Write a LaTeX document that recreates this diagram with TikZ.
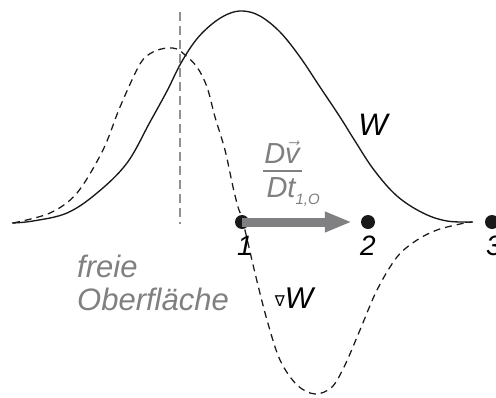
\documentclass[tikz,border=0pt]{standalone}
\usepackage{fontspec}
\setmainfont{Liberation Sans}
\newfontfamily\symfont{DejaVu Sans}
\usetikzlibrary{arrows.meta}
\definecolor{tgray}{RGB}{128,128,130}
\definecolor{lgray}{RGB}{145,145,145}
\begin{document}
\begin{tikzpicture}[x=1pt,y=-1pt,
  curve/.style={line width=1.35pt, black!90, line join=round},
  dcurve/.style={curve, line width=1.25pt, dash pattern=on 7pt off 5pt},
  vline/.style={lgray, line width=1.2pt, dash pattern=on 9pt off 5pt},
  dot/.style={circle, fill=black!90, inner sep=0pt, minimum size=14pt},
  lab/.style={inner sep=0pt, font=\fontsize{28}{30}\selectfont\itshape},
  glab/.style={inner sep=0pt, text=tgray, font=\fontsize{31}{33}\selectfont\itshape},
  flab/.style={inner sep=0pt, text=tgray, font=\fontsize{29}{31}\selectfont\itshape},
  bigarrow/.style={tgray, line width=9pt, -{Triangle[length=27pt,width=19pt]}, shorten >=9pt}]
\useasboundingbox (0,0) rectangle (496,397);
% vertical dashed line
\coordinate (vt) at (180,12);
\coordinate (vb) at (180,224);
\draw[vline] (vt) -- (vb);
% W curve
\draw[curve] plot[smooth, tension=0.6] coordinates {
 (12,223) (33,221) (67,213) (97,193) (127,163) (150,122) (167,91) (181,63)
 (196,40) (212,24) (228,14) (243,11) (260,16) (280,32) (300,57) (320,87)
 (340,117) (355,141) (374,170) (397,196) (423,213) (447,221) (473,222)};
% gradient curve
\draw[dcurve] plot[smooth, tension=0.55] coordinates {
 (13,223) (50,213) (77,193) (103,150) (120,107) (140,64) (153,52) (167,48)
 (177,49) (185,55) (197,67) (207,87) (215,117) (225,150) (233,187) (238,207)
 (243,222) (255,273) (267,320) (280,360) (297,385) (315,394) (332,387)
 (345,365) (360,330) (377,290) (397,257) (417,240) (437,230) (460,224) (472,222)};
% points
\node[dot] (p1) at (242,222) {};
\node[dot] (p2) at (368,222) {};
\node[dot] (p3) at (492,222) {};
\draw[bigarrow] (p1.center) -- (p2);
% point labels
\node[lab, anchor=base] (l1) at (245,255) {1};
\node[lab, anchor=base] (l2) at (368,255) {2};
\node[lab, anchor=base] (l3) at (494,255) {3};
% W labels
\node[lab, font=\fontsize{31}{33}\selectfont\itshape, anchor=base] (w) at (373,135) {W};
\node[lab, font=\fontsize{30}{32}\selectfont\itshape, anchor=base] (gw) at (294,308) {{\symfont\upshape\fontsize{15}{15}\selectfont\raisebox{1.5pt}{∇}}W};
% free surface
\node[glab, anchor=base west] (fr) at (77,277) {freie};
\node[glab, anchor=base west] (ob) at (77,310) {Oberfläche};
% fraction
\node[flab, anchor=base] (num) at (282,163) {D$\vec{\mbox{v}}$};
\node[flab, anchor=base] (den) at (281,197) {Dt\rlap{\fontsize{15}{15}\selectfont\raisebox{-7pt}{1,O}}};
\coordinate (bl) at (263,171);
\coordinate (br) at (302,171);
\draw[tgray, line width=1.4pt] (bl) -- (br);
\end{tikzpicture}
\end{document}
